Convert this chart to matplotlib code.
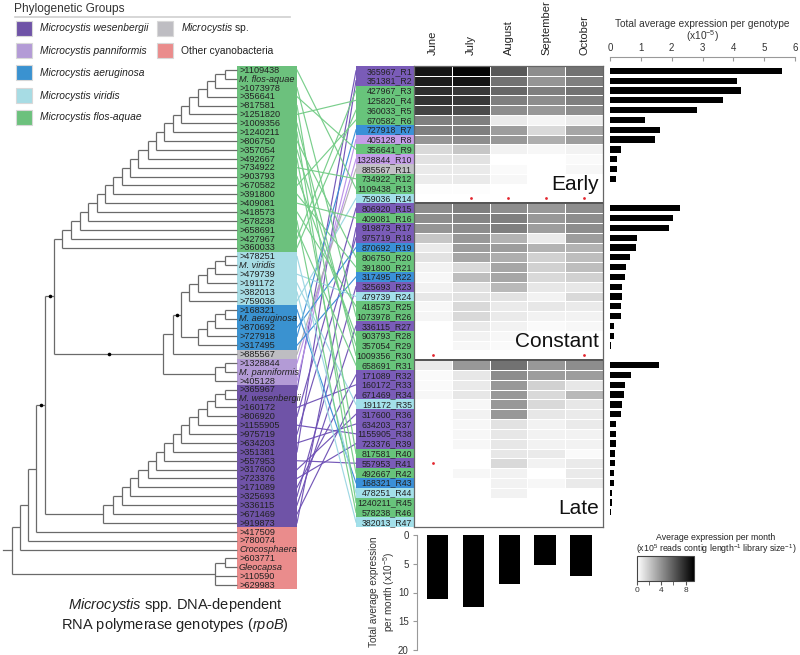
import numpy as np
import matplotlib
matplotlib.use('Agg')
import matplotlib.pyplot as plt
from matplotlib.colors import LinearSegmentedColormap, Normalize
from matplotlib.patches import Rectangle

plt.rcParams['font.family'] = ['Liberation Sans', 'DejaVu Sans']
plt.rcParams['mathtext.fontset'] = 'custom'
plt.rcParams['mathtext.rm'] = 'Liberation Sans'
plt.rcParams['mathtext.it'] = 'Liberation Sans:italic'
plt.rcParams['mathtext.bf'] = 'Liberation Sans:bold'

# ---------------- data ----------------
legend_keys = ['W', 'P', 'A', 'V', 'F', 'S', 'O']
legend_labels = ['Microcystis wesenbergii', 'Microcystis panniformis', 'Microcystis aeruginosa',
                 'Microcystis viridis', 'Microcystis flos-aquae', r'$\it{Microcystis}$ sp.',
                 'Other cyanobacteria']

tree_tips = ['>1109438', 'M. flos-aquae', '>1073978', '>356641', '>817581', '>1251820', '>1009356',
             '>1240211', '>806750', '>357054', '>492667', '>734922', '>903793', '>670582', '>391800',
             '>409081', '>418573', '>578238', '>658691', '>427967', '>360033',
             '>478251', 'M. viridis', '>479739', '>191172', '>382013', '>759036',
             '>168321', 'M. aeruginosa', '>870692', '>727918', '>317495',
             '>885567',
             '>1328844', 'M. panniformis', '>405128',
             '>365967', 'M. wesenbergii', '>160172', '>806920', '>1155905', '>975719', '>634203',
             '>351381', '>557953', '>317600', '>723376', '>171089', '>325693', '>336115', '>671469',
             '>919873',
             '>417509', '>780074', 'Crocosphaera', '>603771', 'Gleocapsa', '>110590', '>629983']
tree_tip_groups = ['F'] * 21 + ['V'] * 6 + ['A'] * 5 + ['S'] + ['P'] * 3 + ['W'] * 16 + ['O'] * 7

months = ['June', 'July', 'August', 'September', 'October']

row_labels = ['365967_R1', '351381_R2', '427967_R3', '125820_R4', '360033_R5', '670582_R6',
              '727918_R7', '405128_R8', '356641_R9', '1328844_R10', '885567_R11', '734922_R12',
              '1109438_R13', '759036_R14', '806920_R15', '409081_R16', '919873_R17', '975719_R18',
              '870692_R19', '806750_R20', '391800_R21', '317495_R22', '325693_R23', '479739_R24',
              '418573_R25', '1073978_R26', '336115_R27', '903793_R28', '357054_R29', '1009356_R30',
              '658691_R31', '171089_R32', '160172_R33', '671469_R34', '191172_R35', '317600_R36',
              '634203_R37', '1155905_R38', '723376_R39', '817581_R40', '557953_R41', '492667_R42',
              '168321_R43', '478251_R44', '1240211_R45', '578238_R46', '382013_R47']
row_tree_links = ['>365967', '>351381', '>427967', '>1251820', '>360033', '>670582', '>727918',
                  '>405128', '>356641', '>1328844', '>885567', '>734922', '>1109438', '>759036',
                  '>806920', '>409081', '>919873', '>975719', '>870692', '>806750', '>391800',
                  '>317495', '>325693', '>479739', '>418573', '>1073978', '>336115', '>903793',
                  '>357054', '>1009356', '>658691', '>171089', '>160172', '>671469', '>191172',
                  '>317600', '>634203', '>1155905', '>723376', '>817581', '>557953', '>492667',
                  '>168321', '>478251', '>1240211', '>578238', '>382013']

# average expression per month (x10^5 reads contig length^-1 library size^-1)
expression = np.array([
    [8.6, 9.2, 6.1, 4.2, 5.2], [8.3, 8.6, 5.2, 3.9, 4.7], [7.7, 7.3, 5.6, 4.7, 5.2],
    [7.5, 7.3, 4.7, 4.2, 4.7], [6.9, 6.6, 4.2, 3.8, 4.2], [4.7, 4.7, 0.8, 0.4, 0.7],
    [4.7, 4.7, 3.6, 1.4, 3.3], [3.9, 4.2, 3.8, 3.0, 3.6], [1.4, 2.1, 0.5, 0.3, 0.5],
    [1.1, 1.1, 0.0, 0.0, 0.2], [0.8, 0.8, 0.2, 0.0, 0.3], [0.7, 0.8, 0.3, 0.0, 0.0],
    [0.1, 0.1, 0.0, 0.0, 0.0], [0.0, 0.0, 0.0, 0.0, 0.0],
    [4.2, 4.7, 4.2, 3.8, 4.2], [4.2, 4.5, 4.7, 3.8, 4.2], [3.9, 4.2, 4.7, 3.6, 4.2],
    [2.1, 3.8, 2.8, 0.8, 3.6], [0.8, 3.6, 3.6, 2.8, 2.8], [1.1, 3.3, 3.0, 1.7, 2.4],
    [0.5, 1.4, 3.3, 1.7, 2.4], [0.3, 2.4, 3.3, 1.4, 1.7], [0.5, 1.1, 2.6, 0.9, 0.9],
    [0.9, 1.1, 1.1, 0.5, 1.4], [0.3, 1.4, 0.8, 0.9, 0.8], [0.4, 1.4, 0.8, 0.5, 0.5],
    [0.0, 0.8, 0.5, 0.2, 0.3], [0.0, 0.5, 0.3, 0.0, 0.0], [0.0, 0.3, 0.2, 0.0, 0.0],
    [0.0, 0.0, 0.0, 0.0, 0.0],
    [0.8, 3.8, 5.2, 3.8, 4.2], [0.2, 0.9, 4.2, 3.6, 3.6], [0.2, 0.8, 3.8, 1.7, 0.9],
    [0.3, 0.9, 3.8, 1.4, 2.6], [0.0, 0.3, 3.8, 1.4, 0.9], [0.0, 0.5, 3.8, 0.9, 0.8],
    [0.0, 0.3, 1.1, 0.5, 0.8], [0.0, 0.3, 0.9, 0.5, 0.5], [0.0, 0.3, 0.9, 0.5, 0.5],
    [0.0, 0.0, 0.9, 0.8, 0.2], [0.0, 0.0, 1.4, 0.5, 0.8], [0.0, 0.3, 0.5, 0.0, 0.8],
    [0.0, 0.0, 0.5, 0.3, 0.8], [0.0, 0.0, 0.5, 0.0, 0.0], [0.0, 0.0, 0.0, 0.0, 0.0],
    [0.0, 0.0, 0.0, 0.0, 0.0], [0.0, 0.0, 0.0, 0.0, 0.0]])

genotype_total = [5.59, 4.13, 4.24, 3.67, 2.81, 1.14, 1.63, 1.46, 0.35, 0.23, 0.22, 0.18, 0.01, 0.0,
                  2.28, 2.04, 1.90, 0.89, 0.85, 0.66, 0.52, 0.50, 0.40, 0.39, 0.36, 0.36, 0.14, 0.13,
                  0.04, 0.0,
                  1.58, 0.69, 0.49, 0.44, 0.39, 0.37, 0.21, 0.20, 0.18, 0.17, 0.16, 0.14, 0.12, 0.07,
                  0.05, 0.02, 0.01]
month_total = [11.2, 12.5, 8.5, 5.2, 7.1]

sig_rows = [13, 13, 13, 13, 29, 29, 40]
sig_cols = [1, 2, 3, 4, 0, 4, 0]

section_names = ['Early', 'Constant', 'Late']
section_last_row = [13, 29, 46]

# ---------------- styles ----------------
C_BOX = {'W': '#6f53a7', 'P': '#b39bd6', 'A': '#3a92d0', 'V': '#a7dce4', 'F': '#6cc17d',
         'S': '#bebdc2', 'O': '#ea8c8c'}
C_ROW = {'W': '#7a5cb8', 'P': '#c49de8', 'A': '#3a90d8', 'V': '#a3e0ea', 'F': '#68c47b',
         'S': '#c2c1c6', 'O': '#ea8c8c'}
C_LINE = {'W': '#6e50b5', 'P': '#b890e8', 'A': '#3a8ed6', 'V': '#9ad6e2', 'F': '#73cc86',
          'S': '#b0b0b0', 'O': '#ea8c8c'}
TREE_C = '#6a6a6a'
TXT = '#222222'

W_PX, H_PX = 800, 655
fig = plt.figure(figsize=(8, 6.55), dpi=100)


def px_axes(x0, y0, x1, y1, **kw):
    return fig.add_axes([x0 / W_PX, 1 - y1 / H_PX, (x1 - x0) / W_PX, (y1 - y0) / H_PX], **kw)


ax0 = px_axes(0, 0, W_PX, H_PX)
ax0.set_xlim(0, W_PX)
ax0.set_ylim(H_PX, 0)
ax0.axis('off')

# ---------------- legend ----------------
ax0.text(14, 9, 'Phylogenetic Groups', fontsize=8.6, color='#333333', va='center', ha='left')
ax0.plot([15, 290], [17, 17], color='#cfcfcf', lw=1.2)
leg_pos = [(16, 28.3), (16, 50.7), (16, 72.7), (16, 95.7), (16, 117.3), (157, 28.3), (157, 50.7)]
for key, lab, (lx, ly) in zip(legend_keys, legend_labels, leg_pos):
    ax0.add_patch(Rectangle((lx, ly - 7.5), 16, 15, facecolor=C_BOX[key], edgecolor='#d8d8d8', lw=0.8))
    style = 'italic' if (key not in ('S', 'O')) else 'normal'
    ax0.text(lx + 24, ly, lab, fontsize=7.4, style=style, color='#222222', va='center', ha='left')

# ---------------- tree ----------------
TIP_Y0, TIP_DY = 70.0, 8.88
TREE_RIGHT = 237.0
BOX_R = 297.0


def tip_y(i):
    return TIP_Y0 + TIP_DY * i


def node(x, *children, support=False):
    return {'x': x, 'ch': list(children), 's': support}


def ladder(tips, xs):
    n = node(xs[0], tips[0], tips[1])
    for t, x in zip(tips[2:], xs[1:]):
        n = node(x, n, t)
    return n


green = ladder(list(range(0, 21)), [225, 215, 206.7, 198.3, 189.3, 181, 172.7, 164.3, 156, 147.7,
                                    138.3, 130, 121.7, 113.3, 105, 96.7, 88.3, 80, 70.7, 62.3])
viridis = ladder(list(range(21, 27)), [225, 215, 206.7, 198.3, 189.3])
aerug = ladder(list(range(27, 32)), [225, 215, 206.7, 198.3])
pannif = ladder([33, 34, 35], [225, 215])
wesen = ladder(list(range(36, 52)), [225, 215, 206.7, 198.3, 189.3, 181, 172.7, 164.3, 156, 147.7,
                                     138.3, 130, 121.7, 113.3, 103.3])
outg = node(215, node(225, 55, 56), 57, 58)
va = node(181, viridis, aerug, support=True)
vas = node(172.7, va, 32)
vasp = node(163.3, vas, pannif, support=True)
big = node(54, green, vasp, support=True)
mic = node(45, big, wesen, support=True)
nb = node(36, mic, 52)
nc = node(28.3, nb, 53)
nd = node(20, nc, 54)
root = node(11.7, nd, outg)

dots = []


def draw(n, parent_x):
    ys = []
    for c in n['ch']:
        if isinstance(c, int):
            y = tip_y(c)
            ax0.plot([n['x'], TREE_RIGHT], [y, y], color=TREE_C, lw=0.9, solid_capstyle='butt')
        else:
            y = draw(c, n['x'])
            ax0.plot([n['x'], c['x']], [y, y], color=TREE_C, lw=0.9, solid_capstyle='butt')
        ys.append(y)
    ax0.plot([n['x'], n['x']], [ys[0], ys[-1]], color=TREE_C, lw=0.9, solid_capstyle='butt')
    ym = (ys[0] + ys[-1]) / 2
    if n['s']:
        dots.append(((parent_x + n['x']) / 2, ym))
    return ym


ry = draw(root, 3)
ax0.plot([3, root['x']], [ry, ry], color=TREE_C, lw=0.9)
for dx, dy in dots:
    ax0.plot(dx, dy, 'o', color='black', ms=2.6, mec='none')

# tip label boxes
for i, (lab, g) in enumerate(zip(tree_tips, tree_tip_groups)):
    y = tip_y(i)
    ax0.add_patch(Rectangle((TREE_RIGHT, y - TIP_DY / 2), BOX_R - TREE_RIGHT, TIP_DY,
                            facecolor=C_BOX[g], edgecolor='none', lw=0))
    italic = not lab.startswith('>')
    ax0.text(TREE_RIGHT + 2, y + 0.3, lab, fontsize=6.6, color=TXT, va='center', ha='left',
             style='italic' if italic else 'normal')

ax0.text(175, 605, r'$\it{Microcystis}$ spp. DNA-dependent', fontsize=10.5, color='#222222',
         ha='center', va='center')
ax0.text(175, 625, r'RNA polymerase genotypes ($\it{rpoB}$)', fontsize=10.5, color='#222222',
         ha='center', va='center')

# ---------------- heatmap ----------------
HM_X0, HM_X1, HM_Y0, HM_Y1 = 414, 603, 66, 527
ROW_H = (HM_Y1 - HM_Y0) / len(row_labels)
LAB_X0 = 356

gray_cmap = LinearSegmentedColormap.from_list('wb', ['#ffffff', '#000000'])
norm = Normalize(vmin=0, vmax=9.4)

axh = px_axes(HM_X0, HM_Y0, HM_X1, HM_Y1)
mesh = axh.pcolormesh(np.arange(len(months) + 1) - 0.5, np.arange(len(row_labels) + 1) - 0.5,
                      expression, cmap=gray_cmap, norm=norm, edgecolors='white', linewidth=0.7)
axh.set_xlim(-0.5, len(months) - 0.5)
axh.set_ylim(len(row_labels) - 0.5, -0.5)
axh.xaxis.tick_top()
axh.set_xticks(range(len(months)))
axh.set_xticklabels(months, rotation=90, fontsize=8, color='#222222')
axh.tick_params(axis='x', length=0, pad=8)
axh.set_yticks([])
for sp in axh.spines.values():
    sp.set_color('#666666')
    sp.set_linewidth(0.9)
for last in section_last_row[:-1]:
    axh.axhline(last + 0.5, color='#444444', lw=1.3)
for name, last in zip(section_names, section_last_row):
    axh.text(len(months) - 0.6, last - 0.85, name, fontsize=15, color='#111111', ha='right',
             va='baseline')
axh.plot(sig_cols, sig_rows, 'o', color='#e3262f', ms=2.0, mec='none')

# row label boxes + tanglegram lines
tip_index = {lab: i for i, lab in enumerate(tree_tips)}
for r, (lab, link) in enumerate(zip(row_labels, row_tree_links)):
    g = tree_tip_groups[tip_index[link]]
    y = HM_Y0 + ROW_H * (r + 0.5)
    ax0.add_patch(Rectangle((LAB_X0, HM_Y0 + ROW_H * r), HM_X0 - LAB_X0, ROW_H,
                            facecolor=C_ROW[g], edgecolor='none'))
    ax0.text(HM_X0 - 2, y + 0.3, lab, fontsize=6.3, color=TXT, ha='right', va='center')
    ty = tip_y(tip_index[link])
    ax0.plot([BOX_R, LAB_X0], [ty, y], color=C_LINE[g], lw=0.85, alpha=0.95)

# ---------------- right bars ----------------
RB_TOP = 57
axr = px_axes(610, RB_TOP, 795, HM_Y1)
axr.barh(range(len(genotype_total)), genotype_total, height=0.64, color='black')
axr.set_xlim(0, 6)
axr.set_ylim(len(row_labels) - 0.5, -0.5 - (HM_Y0 - RB_TOP) / ROW_H)
axr.xaxis.tick_top()
axr.set_xticks(range(7))
axr.tick_params(axis='x', direction='in', length=3, color='#999999', labelsize=7,
                labelcolor='#333333', pad=3)
axr.set_yticks([])
for k in ('bottom', 'left', 'right'):
    axr.spines[k].set_visible(False)
axr.spines['top'].set_color('#999999')
axr.spines['top'].set_linewidth(0.8)
axr.patch.set_alpha(0)
ax0.text(702, 24, 'Total average expression per genotype', fontsize=7.3, color='#333333',
         ha='center', va='center')
ax0.text(702, 36, r'(x10$^{-5}$)', fontsize=7.3, color='#333333', ha='center', va='center')

# ---------------- bottom bars ----------------
axb = px_axes(417, 535, 603, 650)
axb.bar(range(len(month_total)), month_total, width=0.6, color='black')
axb.set_ylim(20, 0)
axb.set_xlim(-0.571, 4.61)
axb.set_xticks([])
axb.set_yticks([0, 5, 10, 15, 20])
axb.tick_params(axis='y', length=3, color='#999999', labelsize=7, labelcolor='#333333', pad=3)
for k in ('bottom', 'top', 'right'):
    axb.spines[k].set_visible(False)
axb.spines['left'].set_color('#999999')
axb.spines['left'].set_linewidth(0.8)
axb.patch.set_alpha(0)
ax0.text(383, 592, 'Total average expression\n' + r'per month (x10$^{-5}$)', fontsize=7.2,
         color='#333333', rotation=90, ha='center', va='center', linespacing=1.15,
         multialignment='center')

# ---------------- colour bar ----------------
cax = px_axes(637, 556, 694, 581)
cb = fig.colorbar(mesh, cax=cax, orientation='horizontal', ticks=[0, 4, 8])
cb.ax.set_xticks([2, 6], minor=True)
cb.ax.tick_params(which='both', length=3, color='#555555', labelsize=6, labelcolor='#333333', pad=1.5)
cb.outline.set_linewidth(0.8)
cb.outline.set_edgecolor('#444444')
ax0.text(716, 538, 'Average expression per month', fontsize=6.3, color='#222222', ha='center',
         va='center')
ax0.text(716, 549, r'(x10$^{5}$ reads contig length$^{-1}$ library size$^{-1}$)', fontsize=6.3,
         color='#222222', ha='center', va='center')

fig.savefig('out.png', dpi=100, facecolor='white')
